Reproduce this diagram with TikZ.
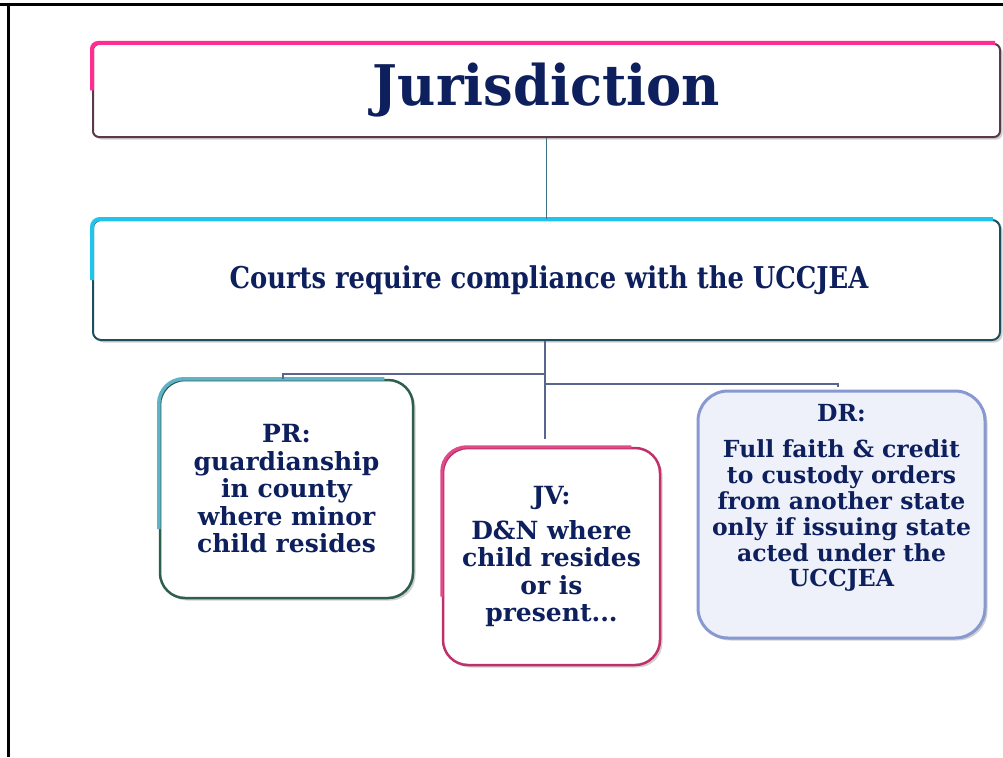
\documentclass[tikz,border=0pt]{standalone}
\usepackage{fontspec}
\newfontfamily\titlefont[FakeStretch=0.94]{DejaVu Serif Bold}
\newfontfamily\courtsfont[FakeStretch=0.86]{DejaVu Serif Bold}
\newfontfamily\boxfont{DejaVu Serif Bold}
\usetikzlibrary{shadows,calc}
\definecolor{navy}{HTML}{0D1F5C}
\definecolor{pinkc}{HTML}{FF2D8F}
\definecolor{titledark}{HTML}{5A3A4A}
\definecolor{cyanc}{HTML}{22C4EC}
\definecolor{courtsdark}{HTML}{1E4E5E}
\definecolor{prlight}{HTML}{5FB3C8}
\definecolor{prdark}{HTML}{2E5E4E}
\definecolor{jvc}{HTML}{C0306A}
\definecolor{jvlight}{HTML}{E04A88}
\definecolor{drc}{HTML}{8898D0}
\definecolor{drfill}{HTML}{EFF1FA}
\definecolor{linkc}{HTML}{59648F}
\definecolor{toplink}{HTML}{3D7385}
\tikzset{
  boxshadow/.style={drop shadow={shadow xshift=2.5pt,shadow yshift=-2.5pt,opacity=0.3,fill=black!60}},
  boxtext/.style={text=navy,align=center,font=\boxfont\fontsize{25}{27.5}\selectfont},
  linkline/.style={draw=linkc,line width=2},
}
\begin{document}
\begin{tikzpicture}[x=1pt,y=-1pt]
\useasboundingbox (0,0) rectangle (1003,757);
\fill[white] (0,0) rectangle (1003,757);
% page frame
\draw[black,line width=3] (0,5) -- (1003,5);
\draw[black,line width=3] (8,5) -- (8,757);

% title
\node[draw=titledark,line width=2,fill=white,rounded corners=6,boxshadow,
      minimum width=907,minimum height=93,inner sep=0,
      text=navy,font=\titlefont\fontsize{56}{60}\selectfont] (title) at (546.5,90.5) {\raisebox{-4pt}{Jurisdiction}};
\draw[pinkc,line width=4,rounded corners=6] (title.west) |- ($(title.north east)+(-6,0)$);

% courts
\node[draw=courtsdark,line width=2,fill=white,rounded corners=8,boxshadow,
      minimum width=907,minimum height=120,inner sep=0,
      text=navy,font=\courtsfont\fontsize{30}{34}\selectfont] (courts) at (546.5,280) {\hspace{5pt}Courts require compliance with the UCCJEA};
\draw[cyanc,line width=4,rounded corners=8] (courts.west) |- ($(courts.north east)+(-8,0)$);

% PR
\node[draw=prdark,line width=2.5,fill=white,rounded corners=25,boxshadow,
      minimum width=253,minimum height=218,inner sep=0,boxtext] (pr) at (286.5,489)
  {PR:\\guardianship\\in county\\where minor\\child resides};
\draw[prlight,line width=3.5,rounded corners=25] ($(pr.west)+(0,40)$) |- ($(pr.north east)+(-30,0)$);

% JV
\node[draw=jvc,line width=2.5,fill=white,rounded corners=25,boxshadow,
      minimum width=217,minimum height=217,inner sep=0,boxtext] (jv) at (551.5,556.5)
  {JV:\\[7pt]D\&N where\\child resides\\or is\\present...};
\draw[jvlight,line width=3,rounded corners=25] ($(jv.west)+(0,40)$) |- ($(jv.north east)+(-30,0)$);

% DR
\node[draw=drc,line width=3,fill=drfill,rounded corners=30,boxshadow,
      minimum width=287,minimum height=247,inner sep=0] (dr) at (841.5,514.5) {};
\node[boxtext,font=\boxfont\fontsize{23.5}{25.8}\selectfont,anchor=north] (drtext) at ($(dr.north)+(0,11)$)
  {DR:\\[11pt]Full faith \& credit\\to custody orders\\from another state\\only if issuing state\\acted under the\\UCCJEA};

% connectors
\coordinate (hubtop) at ($(courts.south)+(-1.5,0)$);
\draw[toplink,line width=1.5] (title.south) -- (title.south |- courts.north);
\draw[linkline] (hubtop) -- ($(hubtop |- jv.north)+(0,-8)$);
\draw[linkline] ($(pr.north)+(-3.5,0)$) -- ++(0,-5) -| ($(hubtop)+(0,35)$);
\draw[linkline] ($(hubtop)+(0,43)$) -| ($(dr.north)+(-3.5,-3)$);
\end{tikzpicture}
\end{document}
